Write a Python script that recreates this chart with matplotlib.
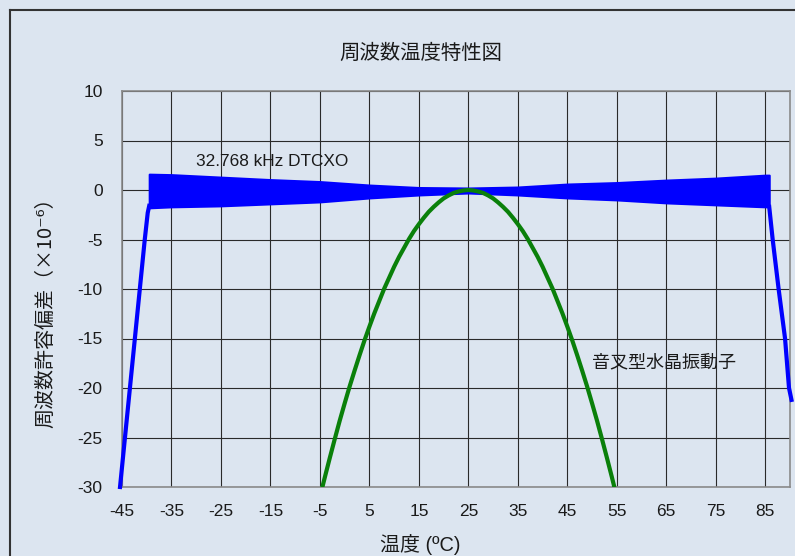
import matplotlib
matplotlib.use('Agg')
import matplotlib.pyplot as plt
from matplotlib.lines import Line2D

plt.rcParams['font.family'] = ['Liberation Sans', 'Noto Sans CJK JP', 'DejaVu Sans']
plt.rcParams['axes.unicode_minus'] = False

# ---- data ----
x_ticks = [-45, -35, -25, -15, -5, 5, 15, 25, 35, 45, 55, 65, 75, 85]
y_ticks = [-30, -25, -20, -15, -10, -5, 0, 5, 10]

# tuning-fork crystal (green parabola)
tf_temp = [-4.5, -4, -3, -2, -1, 0, 1, 2, 3, 4, 5, 6, 7, 8, 9, 10, 11, 12, 13, 14,
           15, 16, 17, 18, 19, 20, 21, 22, 23, 24, 25, 26, 27, 28, 29, 30, 31, 32, 33,
           34, 35, 36, 37, 38, 39, 40, 41, 42, 43, 44, 45, 46, 47, 48, 49, 50, 51, 52,
           53, 54, 54.5]
tf_dev = [-30.0, -29.0, -27.05, -25.15, -23.3, -21.55, -19.85, -18.25, -16.7, -15.2,
          -13.8, -12.45, -11.2, -9.95, -8.85, -7.75, -6.75, -5.85, -4.95, -4.15,
          -3.45, -2.8, -2.2, -1.7, -1.25, -0.85, -0.55, -0.3, -0.15, -0.05, 0.0,
          -0.05, -0.15, -0.3, -0.55, -0.85, -1.25, -1.7, -2.2, -2.8, -3.45,
          -4.15, -4.95, -5.85, -6.75, -7.75, -8.85, -9.95, -11.2, -12.45, -13.8,
          -15.2, -16.7, -18.25, -19.85, -21.55, -23.3, -25.15, -27.05, -29.0, -30.0]

# 32.768 kHz DTCXO band (upper / lower envelope)
band_temp = [-39.5, -35, -25, -15, -5, 5, 15, 25, 35, 45, 55, 65, 75, 85, 85.8]
band_upper = [1.6, 1.55, 1.3, 1.05, 0.85, 0.5, 0.25, 0.2, 0.3, 0.6, 0.75, 1.0, 1.2, 1.5, 1.5]
band_lower = [-1.8, -1.7, -1.6, -1.4, -1.2, -0.8, -0.5, -0.3, -0.5, -0.8, -1.0, -1.3, -1.5, -1.7, -1.7]

# DTCXO out-of-range legs
left_leg_temp = [-45.4, -44.4, -43.4, -42.4, -41.4, -40.4, -39.8, -39.5]
left_leg_dev = [-30, -25, -20, -15, -10, -5, -2.3, -1.6]
right_leg_temp = [85.8, 86.5, 87.7, 89.0, 89.8, 90.3]
right_leg_dev = [-1.7, -5, -10, -15, -20, -21.2]

BG = '#dce5f0'
W, H = 795, 556

fig = plt.figure(figsize=(W / 100, H / 100), dpi=100, facecolor=BG)
ax = fig.add_axes([122 / W, 1 - 487 / H, (790 - 122) / W, (487 - 91) / H])
ax.set_facecolor(BG)

ax.set_xlim(-45, 90)
ax.set_ylim(-30, 10)
ax.set_xticks(x_ticks)
ax.set_yticks(y_ticks)
ax.grid(True, color='#2a2a2a', lw=0.8, zorder=1)
ax.set_axisbelow(True)
ax.tick_params(length=0, labelsize=12.5, colors='#1a1a1a')
ax.tick_params(axis='x', pad=12)
ax.tick_params(axis='y', pad=14)
for s in ax.spines.values():
    s.set_color('#8a8a8a')
    s.set_linewidth(1.2)

# DTCXO
ax.fill_between(band_temp, band_lower, band_upper, color='#0000ff', lw=1.5,
                edgecolor='#0000ff', zorder=3)
ax.plot(left_leg_temp, left_leg_dev, color='#0000ff', lw=3, zorder=3, clip_on=False)
ax.plot(right_leg_temp, right_leg_dev, color='#0000ff', lw=3, zorder=3, clip_on=False)

# tuning fork
ax.plot(tf_temp, tf_dev, color='#0a800a', lw=3, zorder=4)

ax.text(-30, 2.9, '32.768 kHz DTCXO', fontsize=12.4, va='center', ha='left', color='#1a1a1a')
ax.text(50, -17.5, '音叉型水晶振動子', fontsize=13, va='center', ha='left', color='#1a1a1a')

# titles / labels (figure coords, centred on the chart area)
fig.text(421 / W, 1 - 53 / H, '周波数温度特性図', fontsize=14.7, ha='center', va='center',
         color='#1a1a1a')
fig.text(420 / W, 1 - 545 / H, '温度 (ºC)', fontsize=14.4, ha='center', va='center',
         color='#1a1a1a')
fig.text(46 / W, 1 - 308 / H, '周波数許容偏差（×10⁻⁶）', fontsize=14.4, ha='center',
         va='center', rotation=90, color='#1a1a1a',
         family=['Noto Sans CJK JP', 'DejaVu Sans'])

# outer chart border (left and top visible)
fig.add_artist(Line2D([10 / W, 10 / W], [0, 1 - 10 / H], transform=fig.transFigure,
                      color='#333333', lw=1.5))
fig.add_artist(Line2D([10 / W, 1], [1 - 10 / H, 1 - 10 / H], transform=fig.transFigure,
                      color='#333333', lw=1.5))

fig.savefig('out.png', dpi=100, facecolor=BG)
